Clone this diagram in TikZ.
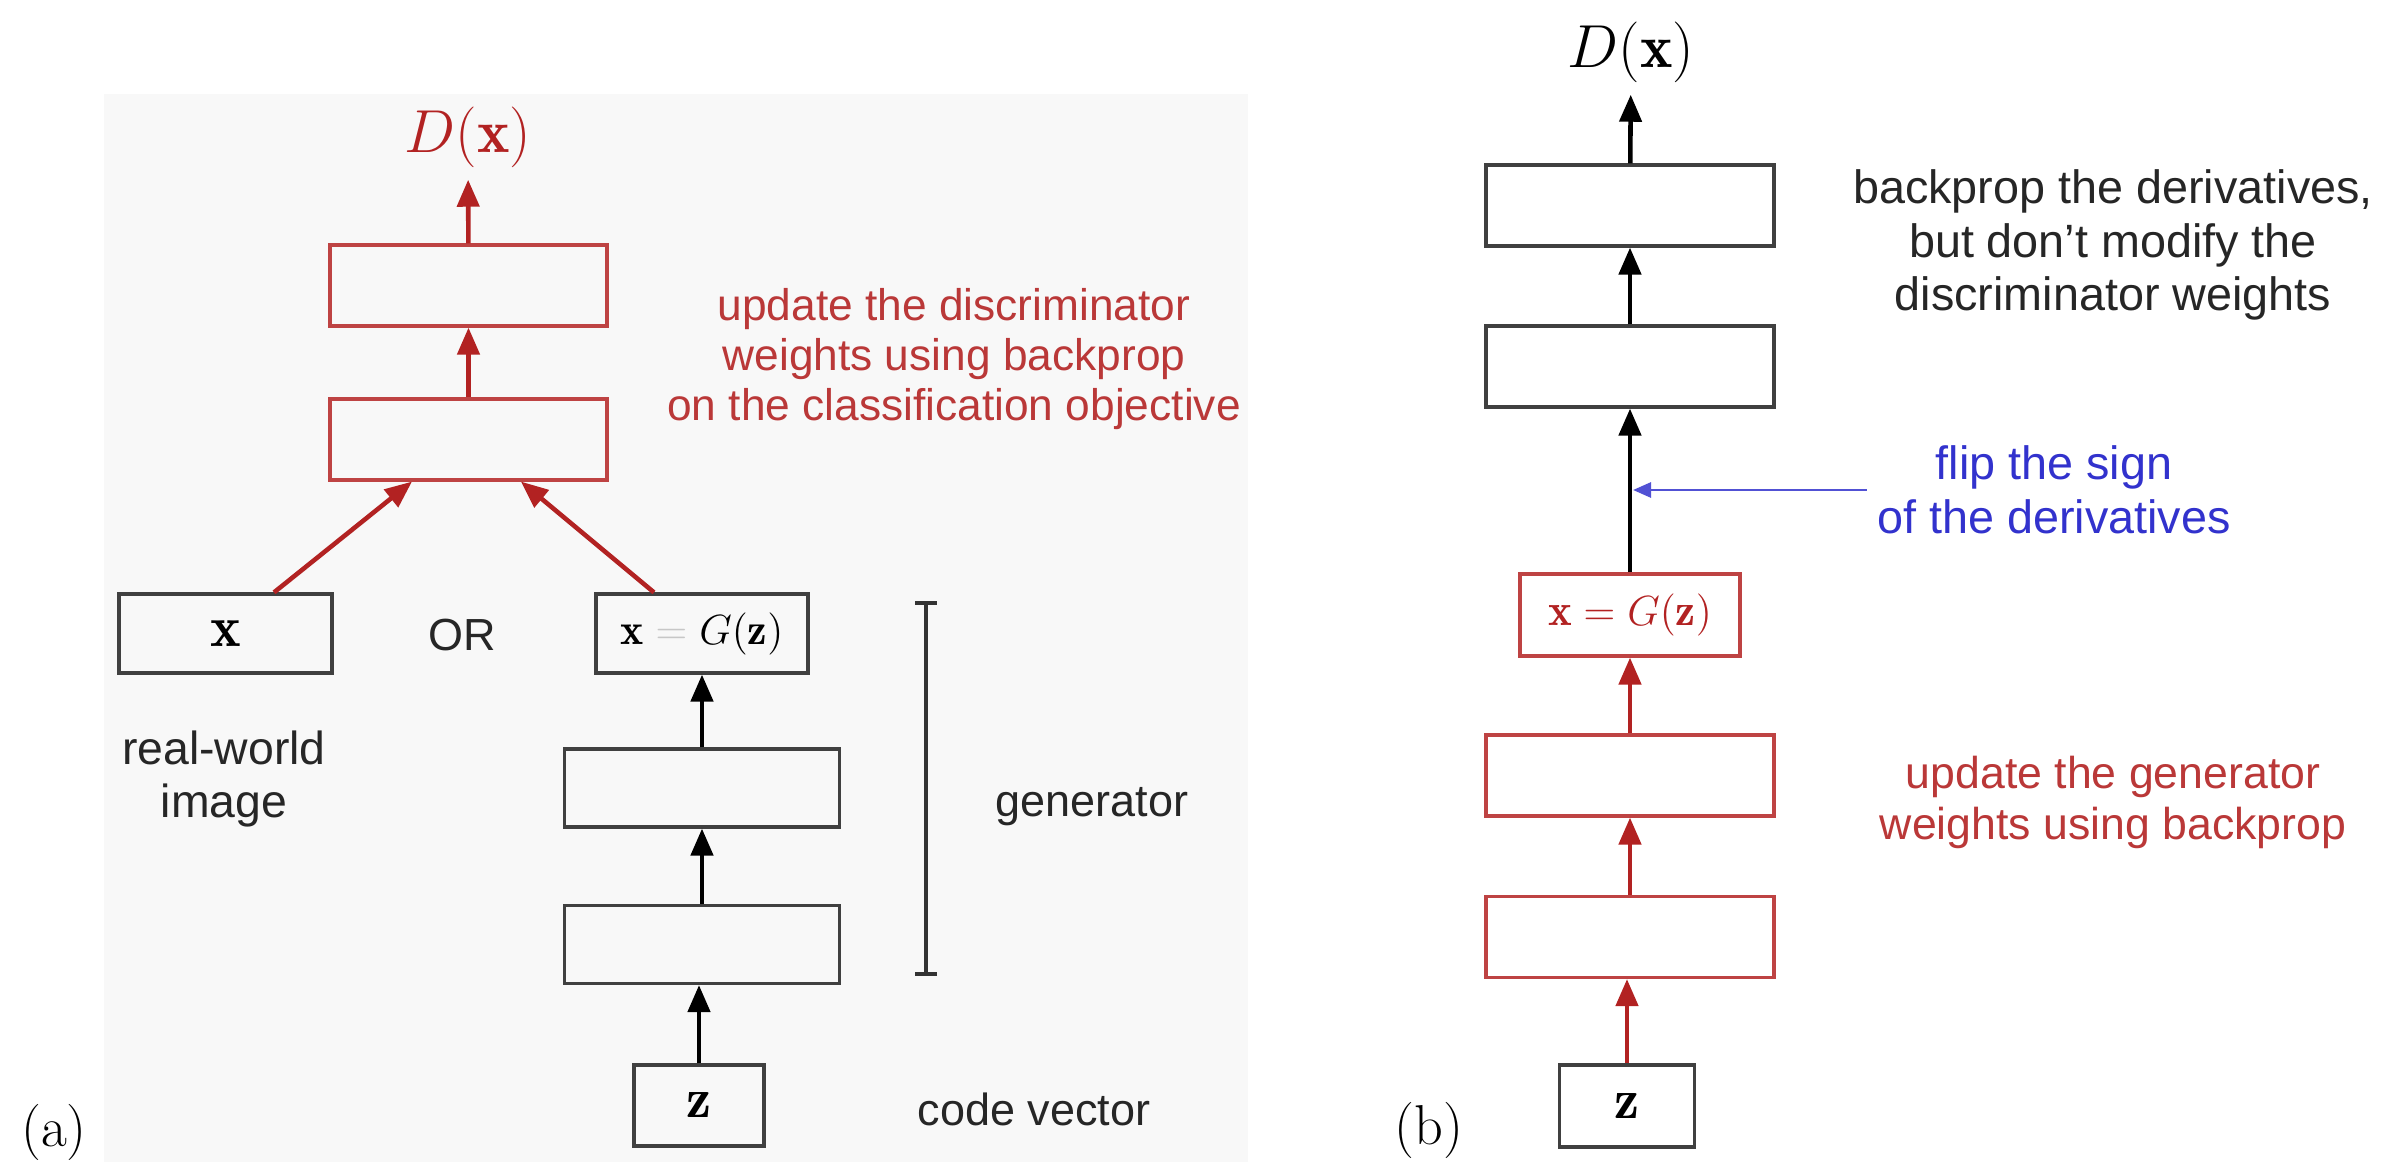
\documentclass[tikz,border=0pt]{standalone}
\usepackage{fontspec}
\setsansfont{Liberation Sans}
\usepackage{amsmath,amssymb}
\usepackage{xcolor}
\usetikzlibrary{arrows.meta, positioning}

\definecolor{gradred}{RGB}{178,34,34}
\definecolor{flipblue}{RGB}{50,50,205}
\definecolor{panelgray}{RGB}{248,248,248}

\begin{document}
\begin{tikzpicture}[
  layer/.style={
    rectangle,
    draw=#1,
    minimum width=2.77cm,
    minimum height=0.81cm,
    line width=0.9pt,
    inner sep=0pt
  },
  layer/.default=black!75,
  flow/.style={
    -{Triangle[length=2.7mm,width=2.2mm]},
    line width=1.3pt,
    draw=#1
  },
  flow/.default=black,
  note/.style={
    font=\sffamily\fontsize{12.8}{15}\selectfont,
    align=center,
    text=#1,
    inner sep=1mm
  },
  note/.default=black!85,
  bigmath/.style={font=\fontsize{17.5}{20}\selectfont}
]
\useasboundingbox (0,0) rectangle (23.86,11.62);

% Panel (a): training the discriminator
\fill[panelgray] (1.04,0) rectangle (12.48,10.68);

\node[bigmath, text=gradred] (dxa) at (4.68,10.25) {$D(\mathbf{x})$};
\node[layer=gradred!85] (da1) at (4.685,8.765) {};
\node[layer=gradred!85] (da2) at (4.685,7.225) {};

\node[layer, minimum width=2.13cm, minimum height=0.79cm, font=\fontsize{16.5}{18}\selectfont] (xa) at (2.255,5.285) {$\mathbf{x}$};
\node[note] (or) at (4.62,5.27) {OR};
\node[layer, minimum width=2.12cm, minimum height=0.79cm, font=\fontsize{12.5}{14}\selectfont] (gza) at (7.02,5.285) {$\mathbf{x} \mathrel{\textcolor{black!22}{=}} G(\mathbf{z})$};
\node[note, font=\sffamily\fontsize{13.2}{15.3}\selectfont] (real) at (2.24,3.83) {real-world\\image};

\node[layer, minimum width=2.75cm, minimum height=0.78cm] (ga1) at (7.02,3.74) {};
\node[layer, minimum width=2.75cm, minimum height=0.78cm] (ga2) at (7.02,2.175) {};
\node[layer, minimum width=1.30cm, font=\fontsize{16}{18}\selectfont] (za) at (6.99,0.565) {$\mathbf{z}$};

% generator bracket
\coordinate (gtop) at (9.26,5.61);
\coordinate (gbot) at (9.26,1.86);
\draw[line width=1pt, black!80, {Bar[width=2.2mm]}-{Bar[width=2.2mm]}] (gtop) -- (gbot);

\node[note] (gen) at (10.92,3.55) {generator};
\node[note] (code) at (10.34,0.53) {code vector};
\node[note=gradred!90, font=\sffamily\fontsize{12.6}{14.2}\selectfont] (upda) at (9.54,8.03) {update the discriminator\\weights using backprop\\on the classification objective};
\node[font=\fontsize{16}{18}\selectfont] (laba) at (0.54,0.30) {(a)};

\draw[flow=gradred] (da1) -- (dxa);
\draw[flow=gradred] (da2) -- (da1);
\draw[flow=gradred] ([xshift=4.85mm]xa.north) -- ([xshift=-5.65mm]da2.south);
\draw[flow=gradred] ([xshift=-4.8mm]gza.north) -- ([xshift=5.25mm]da2.south);
\draw[flow] (ga1) -- (gza);
\draw[flow] (ga2) -- (ga1);
\draw[flow] (za.north) -- (za.north |- ga2.south);

% Panel (b): training the generator
\node[bigmath] (dxb) at (16.31,11.10) {$D(\mathbf{x})$};
\node[layer, minimum width=2.88cm] (db1) at (16.30,9.565) {};
\node[layer, minimum width=2.88cm] (db2) at (16.30,7.955) {};
\node[layer=gradred!85, minimum width=2.20cm, minimum height=0.82cm, text=gradred, font=\fontsize{12.8}{14}\selectfont] (gzb) at (16.30,5.47) {$\mathbf{x} = G(\mathbf{z})$};
\node[layer=gradred!85, minimum width=2.88cm] (gb1) at (16.30,3.865) {};
\node[layer=gradred!85, minimum width=2.88cm] (gb2) at (16.30,2.25) {};
\node[layer, minimum width=1.35cm, minimum height=0.82cm, font=\fontsize{16}{18}\selectfont] (zb) at (16.27,0.56) {$\mathbf{z}$};

\node[note, font=\sffamily\fontsize{13.3}{15.3}\selectfont] (keepd) at (21.13,9.17) {backprop the derivatives,\\but don't modify the\\discriminator weights};
\node[note=flipblue, font=\sffamily\fontsize{13.3}{15.3}\selectfont] (flip) at (20.54,6.72) {flip the sign\\of the derivatives};
\node[note=gradred!90, font=\sffamily\fontsize{12.7}{14.5}\selectfont] (updb) at (21.13,3.595) {update the generator\\weights using backprop};
\node[font=\fontsize{16}{18}\selectfont] (labb) at (14.29,0.32) {(b)};

\draw[flow] (db1) -- (dxb);
\draw[flow] (db2) -- (db1);
\draw[flow] (gzb) -- (db2);
\draw[flow=gradred] (gb1) -- (gzb);
\draw[flow=gradred] (gb2) -- (gb1);
\draw[flow=gradred] (zb.north) -- (zb.north |- gb2.south);

\coordinate (flipend) at ([xshift=0.3mm]flip.west -| gzb.north);
\draw[-{Triangle[length=1.8mm,width=1.5mm]}, line width=0.8pt, flipblue!85] (flip.west) -- (flipend);
\end{tikzpicture}
\end{document}
